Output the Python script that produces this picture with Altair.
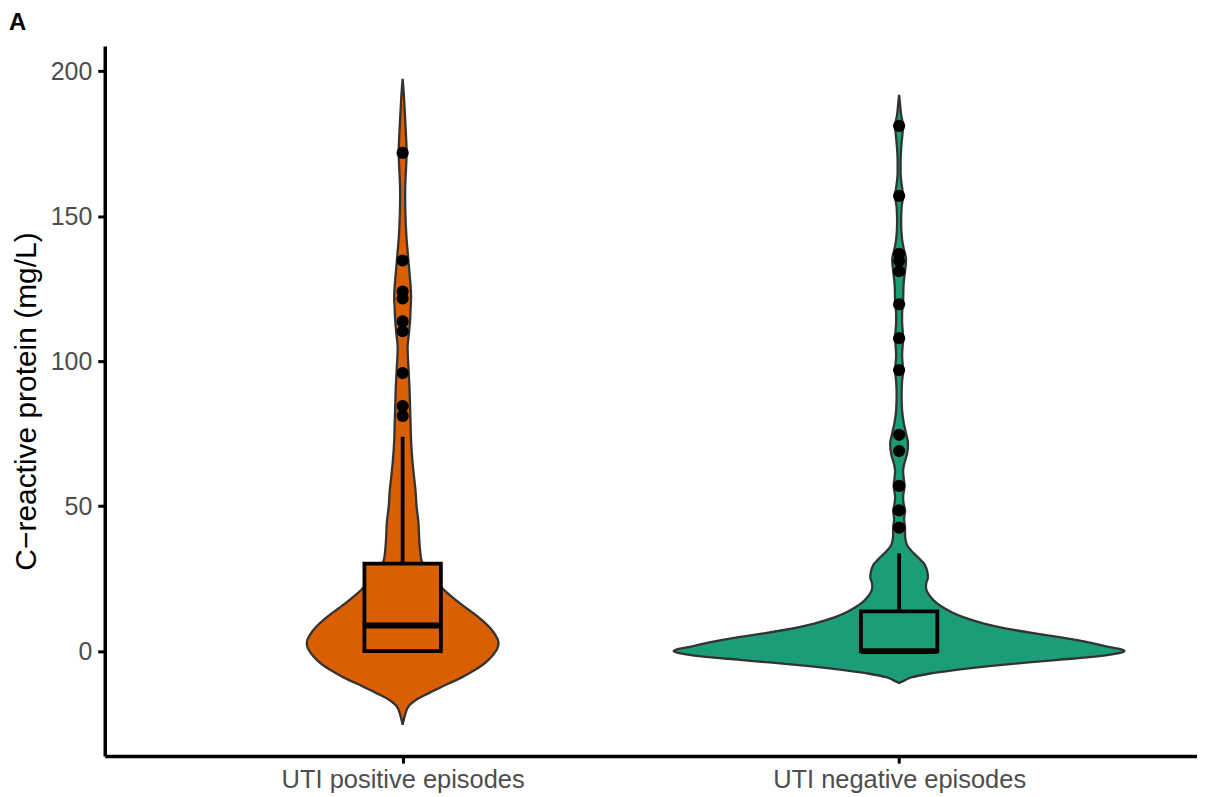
import altair as alt
import pandas as pd

# ---- data ----
groups = ["UTI positive episodes", "UTI negative episodes"]
centers = [1, 2]
colors = ["#D95F02", "#1B9E77"]

# violin outlines: CRP value (mg/L) and half-width (x units)
pos_crp = [-25.4, -22.5, -19, -16.5, -14.4, -12, -10, -7.5, -5.5, -3, -0.7, 1.5, 3.1, 5.5, 8.2,
           10.5, 13, 15, 17.5, 19.5, 21, 24.4, 27.5, 31.3, 35, 40, 44, 50, 55.3, 60, 65, 72.5,
           78.4, 84, 90, 97, 104.5, 110, 114, 118, 122, 126, 130, 134, 138, 142, 147, 152, 157,
           162, 167, 172, 177, 182, 187, 192, 197.3]
pos_hw = [0, 0.004, 0.012, 0.030, 0.054, 0.082, 0.108, 0.135, 0.155, 0.173, 0.185, 0.192, 0.193,
          0.187, 0.175, 0.161, 0.143, 0.127, 0.108, 0.094, 0.084, 0.068, 0.052, 0.038, 0.035,
          0.033, 0.032, 0.028, 0.026, 0.023, 0.020, 0.017, 0.016, 0.015, 0.014, 0.012, 0.010,
          0.013, 0.015, 0.016, 0.017, 0.016, 0.014, 0.012, 0.010, 0.008, 0.0064, 0.0054, 0.005,
          0.0056, 0.007, 0.008, 0.007, 0.0056, 0.004, 0.0024, 0]

neg_crp = [-11, -10, -9, -7.8, -6.5, -5.2, -4, -3, -2, -1, 0, 0.7, 1.4, 3, 4.8, 6, 7.2, 8.4, 9.6,
           11.7, 13.4, 15.1, 16.8, 18.6, 20.3, 22, 23.7, 25.4, 27.2, 28.9, 30.2, 31.3, 32.7, 34,
           35.5, 37, 38.5, 40, 42.6, 45.5, 48.5, 51, 53, 57, 60, 62, 65, 68, 71.5, 75, 79, 83,
           88.6, 93, 96.6, 102, 108, 113.7, 116, 120.6, 126.5, 131, 135, 139, 142, 148, 153, 157,
           161, 165, 169, 173, 177, 181, 185, 188.5, 191.8]
neg_hw = [0, 0.012, 0.026, 0.060, 0.115, 0.181, 0.255, 0.321, 0.390, 0.432, 0.454, 0.446, 0.424,
          0.382, 0.323, 0.277, 0.235, 0.199, 0.169, 0.129, 0.106, 0.088, 0.074, 0.064, 0.057,
          0.054, 0.055, 0.058, 0.057, 0.054, 0.050, 0.044, 0.036, 0.028, 0.020, 0.015, 0.013,
          0.012, 0.012, 0.010, 0.012, 0.009, 0.008, 0.011, 0.009, 0.008, 0.011, 0.016, 0.018,
          0.014, 0.009, 0.006, 0.005, 0.006, 0.008, 0.006, 0.008, 0.006, 0.006, 0.008, 0.009,
          0.012, 0.014, 0.009, 0.006, 0.004, 0.005, 0.008, 0.005, 0.003, 0.003, 0.004, 0.006,
          0.008, 0.004, 0.002, 0]

# box plot statistics
box_q1 = [0, 0]
box_median = [8.8, 0]
box_q3 = [30.2, 13.7]
box_upper = [73.9, 33.7]
box_half = 0.077

# outliers
pos_out = [171.8, 134.7, 124, 121.6, 113.7, 110.3, 95.9, 84.5, 81.1]
neg_out = [181.1, 157, 137, 134.5, 131, 119.6, 107.9, 96.9, 74.6, 69, 57, 48.5, 42.6]

# ---- tables ----
violin = pd.DataFrame(
    [{"group": groups[0], "center": centers[0], "crp": c, "hw": h} for c, h in zip(pos_crp, pos_hw)]
    + [{"group": groups[1], "center": centers[1], "crp": c, "hw": h} for c, h in zip(neg_crp, neg_hw)]
)
violin["lo"] = violin["center"] - violin["hw"]
violin["hi"] = violin["center"] + violin["hw"]

box = pd.DataFrame({
    "group": groups, "center": centers, "q1": box_q1, "median": box_median,
    "q3": box_q3, "upper": box_upper,
})
box["left"] = box["center"] - box_half
box["right"] = box["center"] + box_half

points = pd.DataFrame(
    [{"group": groups[0], "center": centers[0], "crp": v} for v in pos_out]
    + [{"group": groups[1], "center": centers[1], "crp": v} for v in neg_out]
)

FONT = "Liberation Sans"
xscale = alt.Scale(domain=[0.4, 2.6], nice=False, zero=False)
yscale = alt.Scale(domain=[-36.2, 208.7], nice=False, zero=False)
cscale = alt.Scale(domain=groups, range=colors)

xaxis = alt.Axis(
    title=None, values=[1, 2], grid=False, labelLimit=0,
    labelExpr="datum.value == 1 ? 'UTI positive episodes' : 'UTI negative episodes'",
    labelFont=FONT, labelFontSize=25.5, labelColor="#4D4D4D", labelPadding=4,
    domainColor="black", domainWidth=3.5, tickColor="black", tickWidth=3, tickSize=7,
)
yaxis = alt.Axis(
    title="C\u2212reactive protein (mg/L)", values=[0, 50, 100, 150, 200], grid=False,
    labelFont=FONT, labelFontSize=25, labelColor="#4D4D4D", labelPadding=6,
    titleFont=FONT, titleFontSize=30, titleFontWeight="normal", titleColor="black",
    titlePadding=9,
    domainColor="black", domainWidth=3.5, tickColor="black", tickWidth=3, tickSize=7,
)

violin_layer = alt.Chart(violin).mark_area(
    orient="horizontal", interpolate="monotone", stroke="#333333", strokeWidth=2.3,
    fillOpacity=1,
).encode(
    y=alt.Y("crp:Q", scale=yscale, axis=yaxis),
    x=alt.X("lo:Q", scale=xscale, axis=xaxis),
    x2="hi:Q",
    fill=alt.Fill("group:N", scale=cscale, legend=None),
    detail="group:N",
)

whisker = alt.Chart(box).mark_rule(color="black", strokeWidth=3.8).encode(
    x=alt.X("center:Q", scale=xscale),
    y=alt.Y("q3:Q", scale=yscale),
    y2="upper:Q",
)

box_layer = alt.Chart(box).mark_rect(stroke="black", strokeWidth=3.8).encode(
    x=alt.X("left:Q", scale=xscale),
    x2="right:Q",
    y=alt.Y("q1:Q", scale=yscale),
    y2="q3:Q",
    fill=alt.Fill("group:N", scale=cscale, legend=None),
)

median_layer = alt.Chart(box).mark_rule(color="black", strokeWidth=6).encode(
    x=alt.X("left:Q", scale=xscale),
    x2="right:Q",
    y=alt.Y("median:Q", scale=yscale),
)

point_layer = alt.Chart(points).mark_circle(color="black", opacity=1, size=150).encode(
    x=alt.X("center:Q", scale=xscale),
    y=alt.Y("crp:Q", scale=yscale),
)

panel_label = alt.Chart(pd.DataFrame({"t": ["A"]})).mark_text(
    text="A", font=FONT, fontSize=24, fontWeight="bold", color="black",
    align="left", baseline="alphabetic",
).encode(x=alt.value(-96), y=alt.value(-16))

chart = alt.layer(
    violin_layer, whisker, box_layer, median_layer, point_layer, panel_label
).properties(
    width=1095, height=712,
    background="white",
    autosize=alt.AutoSizeParams(type="none"),
    padding={"left": 97, "top": 37, "right": 0, "bottom": 40},
).configure_view(stroke=None)

chart.save("out.html", embed_options={"renderer": "svg", "actions": False})
